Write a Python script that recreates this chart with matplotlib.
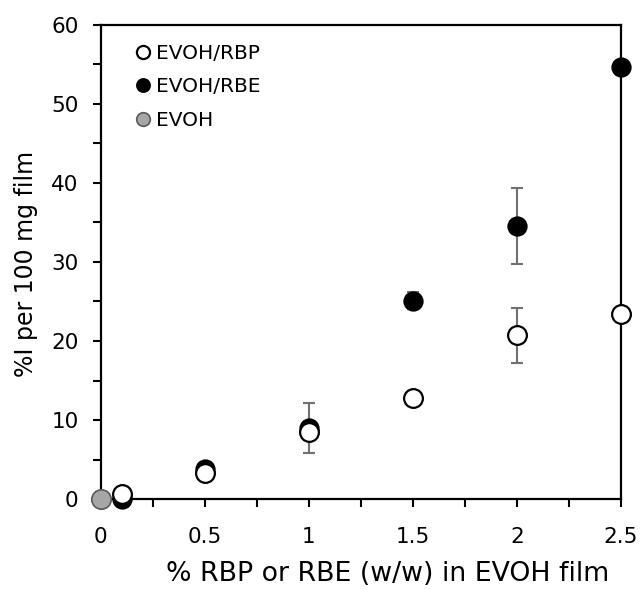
import matplotlib
matplotlib.use("Agg")
import matplotlib.pyplot as plt
from matplotlib.ticker import MultipleLocator

plt.rcParams['font.family'] = ['DejaVu Sans']

x_rbp = [0.1, 0.5, 1.0, 1.5, 2.0, 2.5]
y_rbp = [0.6, 3.3, 8.5, 12.8, 20.7, 23.4]
e_rbp = [0, 0, 0, 0, 3.5, 0]

x_rbe = [0.1, 0.5, 1.0, 1.5, 2.0, 2.5]
y_rbe = [0.0, 3.8, 9.0, 25.1, 34.6, 54.6]
e_rbe = [0, 0, 3.2, 1.1, 4.8, 0]

x_evoh = [0.0]
y_evoh = [0.0]

fig = plt.figure(figsize=(6.42, 5.9), dpi=100)
ax = fig.add_axes([0.157, 0.154, 0.81, 0.804])

ax.errorbar(x_rbe, y_rbe, yerr=e_rbe, fmt='none', ecolor='#707070', elinewidth=1.5, capsize=4, capthick=1.5, zorder=2)
ax.errorbar(x_rbp, y_rbp, yerr=e_rbp, fmt='none', ecolor='#707070', elinewidth=1.5, capsize=4, capthick=1.5, zorder=2)

ax.plot(x_rbp, y_rbp, 'o', ms=13.5, mfc='white', mec='black', mew=1.6, ls='none', label='EVOH/RBP', zorder=4, clip_on=False)
ax.plot(x_rbe, y_rbe, 'o', ms=13, mfc='black', mec='black', mew=1.6, ls='none', label='EVOH/RBE', zorder=3, clip_on=False)
ax.plot(x_evoh, y_evoh, 'o', ms=14, mfc='#a6a6a6', mec='#595959', mew=1.2, ls='none', label='EVOH', zorder=5, clip_on=False)

ax.set_xlim(0, 2.5)
ax.set_ylim(0, 60)
ax.xaxis.set_major_locator(MultipleLocator(0.5))
ax.xaxis.set_minor_locator(MultipleLocator(0.25))
ax.yaxis.set_major_locator(MultipleLocator(10))
ax.yaxis.set_minor_locator(MultipleLocator(5))
ax.set_xticks([0, 0.5, 1, 1.5, 2, 2.5])
ax.set_xticklabels(['0', '0.5', '1', '1.5', '2', '2.5'])

for s in ax.spines.values():
    s.set_linewidth(1.6)
ax.tick_params(which='both', direction='out', width=1.5, labelsize=15.5, top=False, right=False)
ax.tick_params(which='both', length=6)
ax.tick_params(axis='x', pad=14)
ax.tick_params(axis='y', pad=10)

ax.set_xlabel('% RBP or RBE (w/w) in EVOH film', fontsize=19.3)
ax.xaxis.set_label_coords(0.552, -0.13)
ax.set_ylabel('%I per 100 mg film', fontsize=17)
ax.yaxis.set_label_coords(-0.12, 0.495)

leg = ax.legend(loc='upper left', frameon=False, fontsize=14.5, markerscale=0.7,
                handlelength=0.6, handletextpad=0.35, labelspacing=0.72,
                bbox_to_anchor=(0.035, 0.998))

fig.savefig('out.png', dpi=100)
